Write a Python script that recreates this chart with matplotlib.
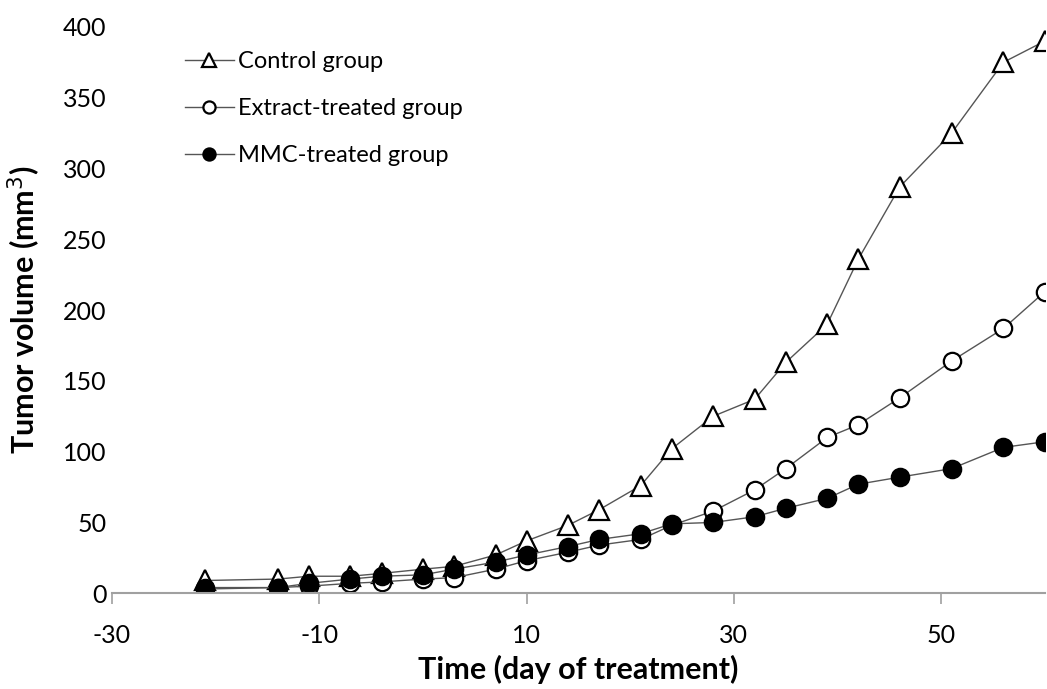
import numpy as np
import matplotlib.pyplot as plt
import matplotlib as mpl

plt.rcParams['font.family'] = ['Lato', 'DejaVu Sans']
plt.rcParams['axes.unicode_minus'] = False

# days of treatment
days = [-21, -14, -11, -7, -4, 0, 3, 7, 10, 14, 17, 21, 24, 28, 32, 35, 39, 42, 46, 51, 56, 60]

# tumor volume (mm^3)
control = [9, 10, 12, 12, 14, 17, 19, 27, 37, 48, 59, 76, 102, 125, 137, 163, 190, 236, 287, 325, 375, 390]
extract = [3, 4, 5, 7, 8, 10, 11, 17, 23, 29, 34, 38, 48, 58, 73, 88, 110, 119, 138, 164, 187, 213]
mmc = [4, 4, 7, 10, 12, 13, 17, 22, 27, 33, 38, 42, 49, 50, 54, 60, 67, 77, 82, 88, 103, 107]

xticks = [-30, -10, 10, 30, 50]
yticks = np.arange(0, 401, 50)

fig = plt.figure(figsize=(10.47, 6.89), dpi=100)
ax = fig.add_axes([0.107, 0.139, 0.891, 0.822])

lc = '#555555'
ax.plot(days, control, color=lc, lw=1, marker='^', ms=14, mfc='white', mec='black', mew=1.6,
        label='Control group')
ax.plot(days, extract, color=lc, lw=1, marker='o', ms=12.5, mfc='white', mec='black', mew=1.6,
        label='Extract-treated group')
ax.plot(days, mmc, color=lc, lw=1, marker='o', ms=12.5, mfc='black', mec='black', mew=1.6,
        label='MMC-treated group')

ax.set_xlim(-30, 60)
ax.set_ylim(0, 400)
ax.set_xticks(xticks)
ax.set_yticks(yticks)
ax.tick_params(axis='x', direction='out', length=8, color='#a0a0a0', width=1.2, labelsize=18, pad=14)
ax.tick_params(axis='y', length=0, labelsize=18, pad=4)

for s in ['top', 'right', 'left']:
    ax.spines[s].set_visible(False)
ax.spines['bottom'].set_color('#a0a0a0')
ax.spines['bottom'].set_linewidth(1.5)

ax.set_xlabel('Time (day of treatment)', fontsize=22, fontweight='bold', labelpad=6)
ax.set_ylabel('Tumor volume (mm$^3$)', fontsize=22, fontweight='bold', labelpad=14)

leg = ax.legend(loc='upper left', bbox_to_anchor=(0.055, 0.995), frameon=False, fontsize=17,
                handlelength=2.1, handletextpad=0.15, labelspacing=1.1, markerscale=0.7)

fig.savefig('out.png', dpi=100)
